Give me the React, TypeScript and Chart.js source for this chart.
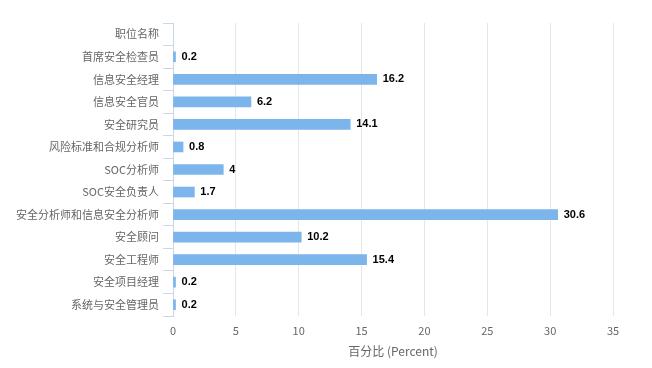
import React, { useEffect, useRef } from "react";
import { Chart, registerables } from "chart.js";

Chart.register(...registerables);

const categories = [
  "职位名称",
  "首席安全检查员",
  "信息安全经理",
  "信息安全官员",
  "安全研究员",
  "风险标准和合规分析师",
  "SOC分析师",
  "SOC安全负责人",
  "安全分析师和信息安全分析师",
  "安全顾问",
  "安全工程师",
  "安全项目经理",
  "系统与安全管理员",
];

const percentValues: (number | null)[] = [
  null, 0.2, 16.2, 6.2, 14.1, 0.8, 4, 1.7, 30.6, 10.2, 15.4, 0.2, 0.2,
];

const xTickMax = 35;
const xTickStep = 5;
const xAxisTitle = "百分比 (Percent)";

const FONT = "'Noto Sans CJK SC', 'Noto Sans', sans-serif";

const dataLabelPlugin = {
  id: "dataLabels",
  afterDatasetsDraw(chart: any) {
    const ctx = chart.ctx;
    const meta = chart.getDatasetMeta(0);
    const data = chart.data.datasets[0].data;
    ctx.save();
    ctx.font = "bold 11px 'Liberation Sans', Arial, sans-serif";
    ctx.textBaseline = "middle";
    ctx.textAlign = "left";
    meta.data.forEach((el: any, i: number) => {
      const v = data[i];
      if (v === null || v === undefined) return;
      const txt = String(v);
      const x = el.x + 6;
      const y = el.y;
      ctx.lineWidth = 2;
      ctx.strokeStyle = "rgba(255,255,255,0.9)";
      ctx.lineJoin = "round";
      ctx.strokeText(txt, x, y);
      ctx.fillStyle = "#000000";
      ctx.fillText(txt, x, y);
    });
    ctx.restore();
  },
};

export default function App() {
  const ref = useRef<HTMLCanvasElement | null>(null);

  useEffect(() => {
    document.body.style.margin = "0";
    const canvas = ref.current;
    if (!canvas) return;
    const chart = new Chart(canvas, {
      type: "bar",
      data: {
        labels: categories,
        datasets: [
          {
            data: percentValues as any,
            backgroundColor: "#7cb5ec",
            borderWidth: 0,
            barThickness: 10,
          },
        ],
      },
      options: {
        indexAxis: "y",
        animation: false,
        responsive: false,
        maintainAspectRatio: false,
        layout: { padding: { top: 23, right: 39, left: 0, bottom: 0 } },
        plugins: {
          legend: { display: false },
          tooltip: { enabled: false },
          title: { display: false },
        },
        scales: {
          x: {
            type: "linear",
            min: 0,
            max: xTickMax,
            ticks: {
              stepSize: xTickStep,
              color: "#666666",
              font: { family: FONT, size: 11 },
              padding: 8,
            },
            grid: {
              color: "#e6e6e6",
              drawTicks: false,
            },
            border: { display: false },
            title: {
              display: true,
              text: xAxisTitle,
              color: "#666666",
              font: { family: FONT, size: 12 },
              padding: { top: 4, bottom: 9 },
            },
            afterFit(scale: any) {
              scale.height = 52;
            },
          },
          y: {
            type: "category",
            offset: true,
            ticks: {
              color: "#666666",
              font: { family: FONT, size: 11 },
              padding: 4,
              autoSkip: false,
            },
            grid: {
              drawOnChartArea: false,
              drawTicks: true,
              tickLength: 10,
              color: "#ccd6eb",
              offset: true,
            },
            border: { display: true, color: "#ccd6eb" },
            afterFit(scale: any) {
              scale.width = 173;
            },
          },
        },
      },
      plugins: [dataLabelPlugin],
    });
    return () => chart.destroy();
  }, []);

  return (
    <div style={{ position: "fixed", left: 0, top: 0, width: 652, height: 368, background: "#fff" }}>
      <canvas ref={ref} width={652} height={368} style={{ width: 652, height: 368 }} />
    </div>
  );
}
